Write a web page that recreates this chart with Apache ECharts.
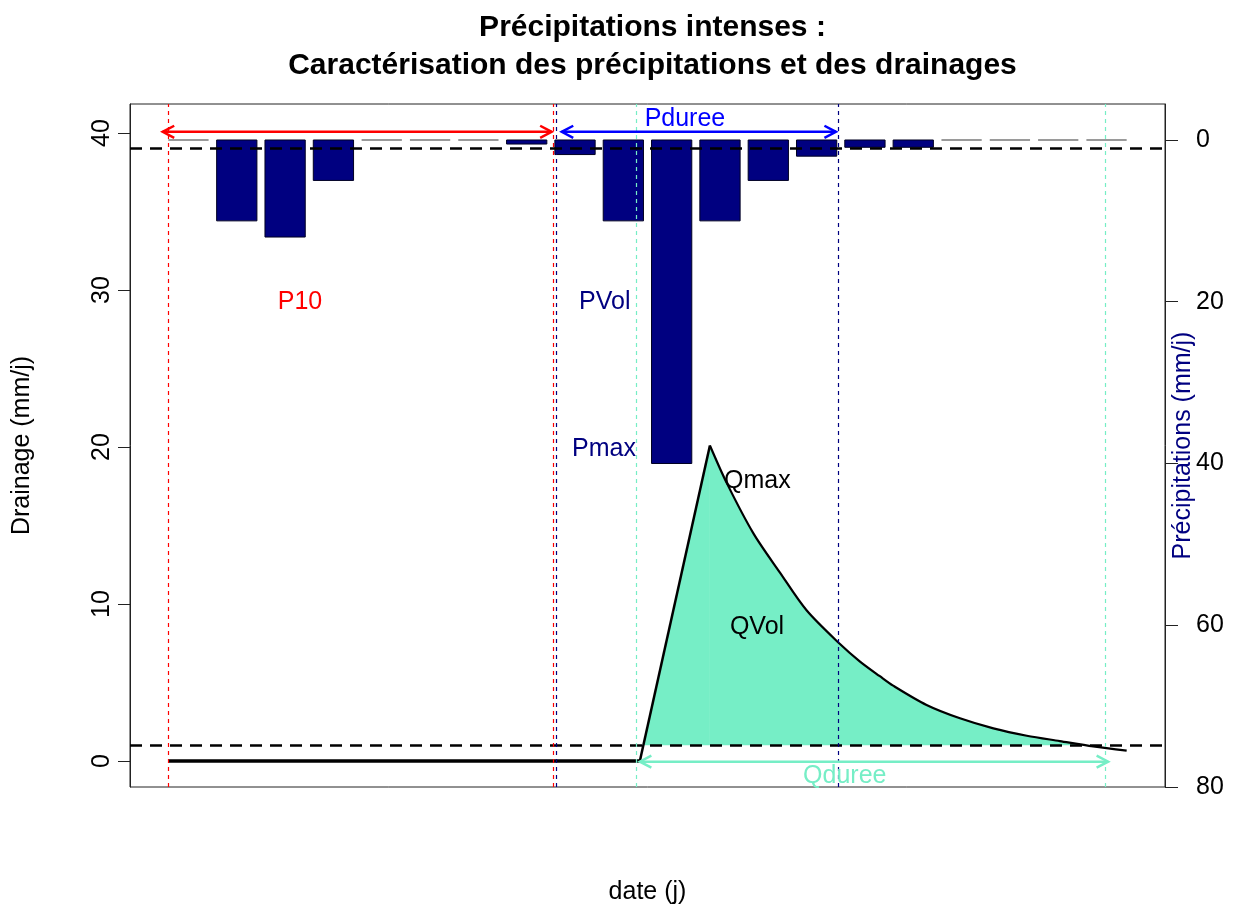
<!DOCTYPE html>
<html><head><meta charset="utf-8">
<script src="https://cdn.jsdelivr.net/npm/echarts@6/dist/echarts.min.js"></script>
<style>html,body{margin:0;padding:0;background:#fff}#c{width:1233px;height:908px}</style>
</head><body><div id="c"></div>
<script>
// ---------- data ----------
const days = [1,2,3,4,5,6,7,8,9,10,11,12,13,14,15,16,17,18,19,20];
const precipitation = [0,10,12,5,0,0,0,0.5,1.8,10,40,10,5,2,0.9,0.9,0,0,0,0]; // mm/j
const drainageX = [0.2, 11.91, 13.65, 14.07, 14.73, 15.39, 16.05, 16.88, 17.37, 17.87, 18.2, 19.03, 19.86, 20.69, 21.52, 22.34, 23.17, 24.0];
const drainageY = [0, 0, 20.1, 17.7, 14.5, 12.0, 9.6, 7.45, 6.35, 5.4, 4.8, 3.57, 2.72, 2.08, 1.61, 1.27, 0.93, 0.66];
const drainageThreshold = 1;
const precipThreshold = 1;
const p10Lines = [0.2, 9.76];
const pDureeLines = [9.84, 16.84];
const qDureeLines = [11.81, 23.48];
const arrowStart = [0.06, 9.97, 11.91];
const arrowEnd = [9.72, 16.78, 23.54];
const arrowLevel = [40.08, 40.08, -0.04];
const annotText = ['P10', 'PVol', 'Pmax', 'Qmax', 'QVol', 'Pduree', 'Qduree'];
const annotX = [3.47, 11.04, 11.02, 14.83, 14.82, 13.03, 17.0];
const annotY = [29.2, 29.2, 19.87, 17.83, 8.54, 40.89, -0.96];
const leftTicks = [0, 10, 20, 30, 40];
const rightTicks = [0, 20, 40, 60, 80];

// ---------- styles ----------
const FONT = "'Liberation Sans', Arial, Helvetica, sans-serif";
const NAVY = '#000080';
const AQUA = '#76EEC6';
const RED = '#FF0000';
const BLUE = '#0000FF';
const arrowColors = [RED, BLUE, AQUA];
const annotColors = [RED, NAVY, NAVY, '#000', '#000', BLUE, AQUA];

// R barplot layout (space = 0.2, width = 1)
const barCenters = days.map(d => 1.2 * d - 0.5);
const barData = barCenters.map((x, i) => [x, precipitation[i]]);
const drainData = drainageX.map((x, i) => [x, drainageY[i]]);

// split the drainage curve: flat base, straight rise, recession (from peak)
let peak = 0;
drainData.forEach((p, i) => { if (p[1] > drainData[peak][1]) peak = i; });
let riseStart = 0;
for (let i = 0; i < peak; i++) if (drainData[i][1] === 0) riseStart = i;
const flatPart = drainData.slice(0, riseStart + 1);
const risePart = drainData.slice(riseStart, peak + 1);
const recessPart = drainData.slice(peak);

// fill pieces: part of the curve above threshold
function aboveThreshold(pts) {
  const out = [];
  for (let i = 0; i < pts.length; i++) {
    const [x, y] = pts[i];
    if (i > 0) {
      const [px, py] = pts[i - 1];
      if ((py - drainageThreshold) * (y - drainageThreshold) < 0) {
        const t = (drainageThreshold - py) / (y - py);
        out.push([px + t * (x - px), drainageThreshold]);
      }
    }
    if (y >= drainageThreshold) out.push([x, y]);
  }
  return out;
}
const fillRise = aboveThreshold(risePart);
const fillRecess = aboveThreshold(recessPart);

const vLine = (x, color) => ({ xAxis: x, lineStyle: { color, type: [4, 4], width: 1.2 } });

const chart = echarts.init(document.getElementById('c'), null, { renderer: 'canvas' });
chart.setOption({
  animation: false,
  backgroundColor: '#fff',
  title: {
    text: 'Précipitations intenses :\nCaractérisation des précipitations et des drainages',
    left: 647.5, top: 4, textAlign: 'center',
    textStyle: { fontFamily: FONT, fontWeight: 'bold', fontSize: 30, lineHeight: 38, color: '#000' }
  },
  grid: { left: 130, right: 68, top: 104, bottom: 121, show: true, borderColor: '#222', borderWidth: 1, outerBoundsMode: 'none' },
  xAxis: {
    type: 'value', min: -0.752, max: 24.952,
    axisLine: { show: false }, axisTick: { show: false }, axisLabel: { show: false }, splitLine: { show: false },
    name: 'date (j)', nameLocation: 'middle', nameGap: 93,
    nameTextStyle: { fontFamily: FONT, fontSize: 25, color: '#000' }
  },
  yAxis: [
    {
      type: 'value', position: 'left', min: -1.656, max: 41.85,
      axisLine: { show: true, onZero: false, lineStyle: { color: '#222', width: 1 } },
      axisTick: { show: true, length: 12, customValues: leftTicks, lineStyle: { color: '#222' } },
      axisLabel: { customValues: leftTicks, rotate: 90, margin: 15, fontFamily: FONT, fontSize: 25, color: '#000' },
      splitLine: { show: false },
      name: 'Drainage (mm/j)', nameLocation: 'middle', nameGap: 95, nameRotate: 90, nameMoveOverlap: false,
      nameTextStyle: { fontFamily: FONT, fontSize: 25, color: '#000' }
    },
    {
      type: 'value', position: 'right', inverse: true, min: -4.45, max: 80,
      axisLine: { show: true, onZero: false, lineStyle: { color: '#222', width: 1 } },
      axisTick: { show: true, length: 13, customValues: rightTicks, lineStyle: { color: '#222' } },
      axisLabel: { customValues: rightTicks, margin: 31, fontFamily: FONT, fontSize: 25, color: '#000' },
      splitLine: { show: false },
      name: 'Précipitations (mm/j)', nameLocation: 'middle', nameGap: 6, nameRotate: 90, nameMoveOverlap: false,
      nameTextStyle: { fontFamily: FONT, fontSize: 25, color: NAVY }
    }
  ],
  series: [
    {
      type: 'custom', name: 'precip', xAxisIndex: 0, yAxisIndex: 1, z: 2,
      data: barData,
      renderItem: function (params, api) {
        const x = api.value(0), v = api.value(1);
        const a = api.coord([x - 0.5, 0]);
        const b = api.coord([x + 0.5, v]);
        if (v === 0) {
          return { type: 'line', shape: { x1: a[0], y1: a[1], x2: b[0], y2: a[1] }, style: { stroke: '#9a9a9a', lineWidth: 2 } };
        }
        return { type: 'rect', shape: { x: a[0], y: a[1], width: b[0] - a[0], height: b[1] - a[1] },
          style: { fill: NAVY, stroke: '#000022', lineWidth: 1 } };
      }
    },
    {
      type: 'line', name: 'precipThreshold', xAxisIndex: 0, yAxisIndex: 1, data: [], z: 5,
      markLine: { silent: true, symbol: ['none', 'none'], label: { show: false },
        data: [{ yAxis: precipThreshold, lineStyle: { color: '#000', type: [12, 8], width: 2.5 } }] }
    },
    {
      type: 'line', name: 'fillRise', xAxisIndex: 0, yAxisIndex: 0, z: 3,
      data: fillRise, showSymbol: false, lineStyle: { width: 0 },
      areaStyle: { color: AQUA, opacity: 1, origin: drainageThreshold }
    },
    {
      type: 'line', name: 'fillRecess', xAxisIndex: 0, yAxisIndex: 0, z: 3,
      data: fillRecess, showSymbol: false, smooth: 0.3, lineStyle: { width: 0 },
      areaStyle: { color: AQUA, opacity: 1, origin: drainageThreshold }
    },
    {
      type: 'line', name: 'flat', xAxisIndex: 0, yAxisIndex: 0, z: 4,
      data: flatPart, showSymbol: false, lineStyle: { color: '#000', width: 3.5 },
      markLine: { silent: true, symbol: ['none', 'none'], label: { show: false },
        data: [
          { yAxis: drainageThreshold, lineStyle: { color: '#000', type: [12, 8], width: 2.5 } },
          ...p10Lines.map(x => vLine(x, RED)),
          ...pDureeLines.map(x => vLine(x, NAVY)),
          ...qDureeLines.map(x => vLine(x, AQUA))
        ] }
    },
    {
      type: 'line', name: 'rise', xAxisIndex: 0, yAxisIndex: 0, z: 4,
      data: risePart, showSymbol: false, lineStyle: { color: '#000', width: 2.5, join: 'round' }
    },
    {
      type: 'line', name: 'recession', xAxisIndex: 0, yAxisIndex: 0, z: 4,
      data: recessPart, showSymbol: false, smooth: 0.3, lineStyle: { color: '#000', width: 2.2 }
    },
    {
      type: 'custom', name: 'arrows', xAxisIndex: 0, yAxisIndex: 0, z: 6,
      data: arrowStart.map((s, i) => [s, arrowEnd[i], arrowLevel[i]]),
      renderItem: function (params, api) {
        const p1 = api.coord([api.value(0), api.value(2)]);
        const p2 = api.coord([api.value(1), api.value(2)]);
        const L = 13, ang = Math.PI / 6.5;
        const dx = L * Math.cos(ang), dy = L * Math.sin(ang);
        const style = { stroke: arrowColors[params.dataIndex], lineWidth: 2.5, fill: null };
        return { type: 'group', children: [
          { type: 'line', shape: { x1: p1[0], y1: p1[1], x2: p2[0], y2: p2[1] }, style },
          { type: 'polyline', shape: { points: [[p1[0] + dx, p1[1] - dy], p1, [p1[0] + dx, p1[1] + dy]] }, style },
          { type: 'polyline', shape: { points: [[p2[0] - dx, p2[1] - dy], p2, [p2[0] - dx, p2[1] + dy]] }, style }
        ] };
      }
    },
    {
      type: 'custom', name: 'labels', xAxisIndex: 0, yAxisIndex: 0, z: 7,
      data: annotX.map((x, i) => [x, annotY[i]]),
      renderItem: function (params, api) {
        const p = api.coord([api.value(0), api.value(1)]);
        return { type: 'text', x: p[0], y: p[1],
          style: { text: annotText[params.dataIndex], fill: annotColors[params.dataIndex],
            font: '25px ' + FONT, align: 'center', verticalAlign: 'middle' } };
      }
    }
  ]
});
</script>
</body></html>
